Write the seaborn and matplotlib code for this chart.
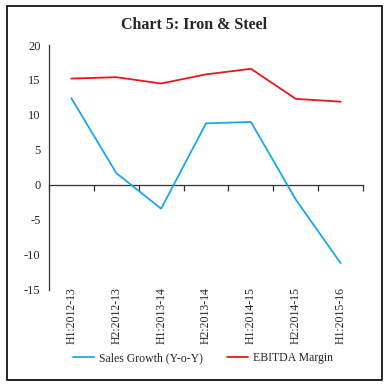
import seaborn as sns
import matplotlib.pyplot as plt
import matplotlib.patches as patches
import pandas as pd

sns.set_style("white")
plt.rcParams['font.family'] = ['Liberation Serif', 'DejaVu Serif']
plt.rcParams['axes.unicode_minus'] = False

periods = ["H1:2012-13", "H2:2012-13", "H1:2013-14", "H2:2013-14",
           "H1:2014-15", "H2:2014-15", "H1:2015-16"]
sales_growth = [12.4, 1.7, -3.4, 8.8, 9.0, -2.1, -11.2]
ebitda_margin = [15.2, 15.4, 14.5, 15.8, 16.6, 12.3, 11.9]

df = pd.concat([
    pd.DataFrame({"period": periods, "value": sales_growth, "series": "Sales Growth (Y-o-Y)"}),
    pd.DataFrame({"period": periods, "value": ebitda_margin, "series": "EBITDA Margin"}),
])

fig = plt.figure(figsize=(3.88, 3.88), dpi=100)
ax = fig.add_axes([0.126, 0.253, 0.81, 0.631])

palette = ["#19A9E8", "#E8161E"]
sns.lineplot(data=df, x="period", y="value", hue="series", palette=palette,
             linewidth=1.3, sort=False, ax=ax)

ax.set_xlim(-0.5, 6.5)
ax.set_ylim(-15, 20)
ax.set_yticks(range(-15, 21, 5))
ax.set_xlabel("")
ax.set_ylabel("")

for s in ["top", "right", "bottom"]:
    ax.spines[s].set_visible(False)
ax.spines["left"].set_color("#333333")
ax.spines["left"].set_linewidth(0.9)
ax.tick_params(axis="y", direction="out", length=4, width=0.9, color="#333333",
               labelsize=9, pad=2)
ax.tick_params(axis="x", length=0, labelsize=8.5, rotation=90, pad=-2)

# zero axis line with category boundary ticks
zax = ax.secondary_xaxis(15 / 35)
zax.set_xticks([i - 0.5 for i in range(8)])
zax.set_xticklabels([])
zax.tick_params(direction="out", length=4, width=0.9, color="#333333")
zax.spines["bottom"].set_color("#333333")
zax.spines["bottom"].set_linewidth(0.9)

leg = ax.legend(loc="center", bbox_to_anchor=(0.49, -0.28), ncol=2, frameon=False,
                fontsize=8.5, handlelength=1.8, columnspacing=2.0, handletextpad=0.4)

fig.text(0.5, 0.935, "Chart 5: Iron & Steel", ha="center", va="center",
         fontsize=11.5, fontweight="bold")

fig.patches.append(patches.Rectangle((0.017, 0.02), 0.968, 0.965, transform=fig.transFigure,
                                     fill=False, edgecolor="black", linewidth=1.2))

fig.savefig("out.png", dpi=100)
plt.close()
